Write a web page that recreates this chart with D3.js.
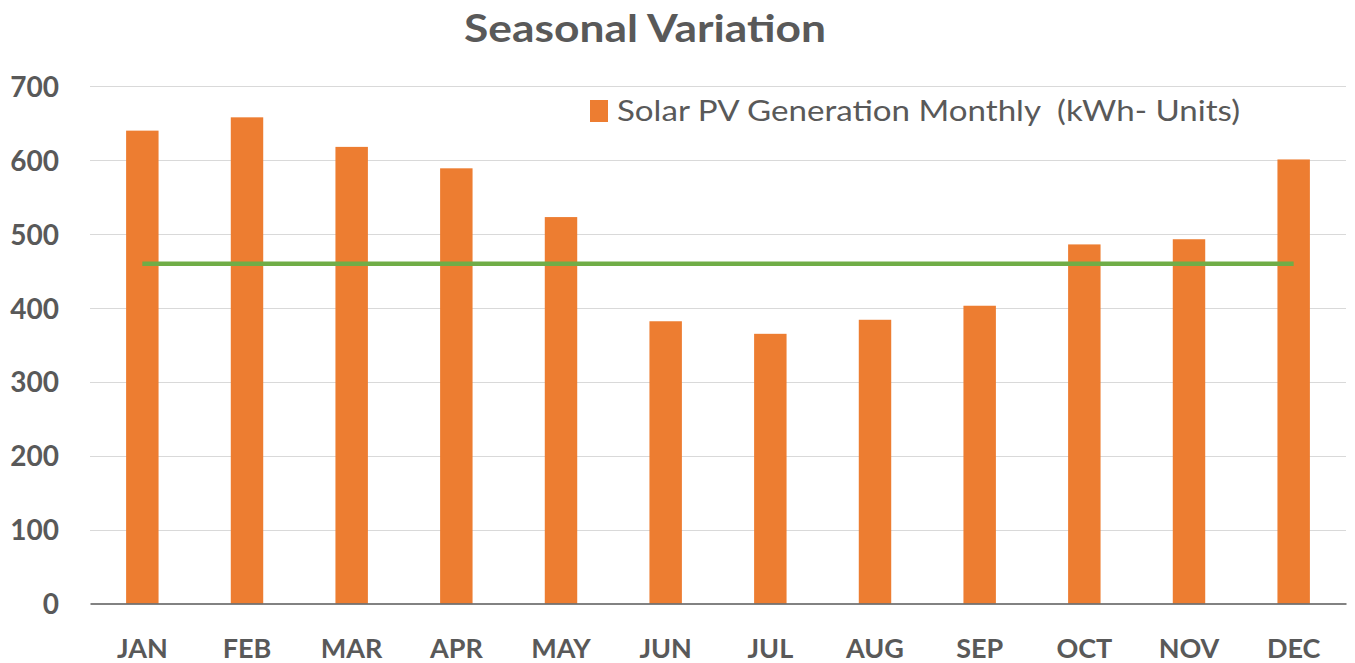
<!DOCTYPE html>
<html>
<head>
<meta charset="utf-8">
<script src="https://cdn.jsdelivr.net/npm/d3@7"></script>
<style>
  body { margin: 0; background: #fff; }
  text { font-family: Lato, "Open Sans", sans-serif; fill: #595959; }
</style>
</head>
<body>
<svg id="chart-svg"></svg>
<script>
const months = ['JAN', 'FEB', 'MAR', 'APR', 'MAY', 'JUN', 'JUL', 'AUG', 'SEP', 'OCT', 'NOV', 'DEC']
const generation = [640, 658, 618, 589, 523, 382, 365, 384, 403, 486, 493, 601]
const averageLine = 460
const yTicks = [0, 100, 200, 300, 400, 500, 600, 700]
const seriesName = 'Solar PV Generation Monthly  (kWh- Units)'

const width = 1355
const height = 663
const margin = { top: 86.3, bottom: 59.5, left: 90, right: 9 }

const svg = d3.select('#chart-svg')
    .attr('width', width)
    .attr('height', height)

const x = d3.scaleBand()
    .domain(months)
    .range([margin.left, width - margin.right])
    .paddingInner(0.69)
    .paddingOuter(0.345)

const y = d3.scaleLinear()
    .domain([0, 700])
    .range([height - margin.bottom, margin.top])

// gridlines
svg.append('g')
    .selectAll('line')
    .data(yTicks.slice(1))
    .join('line')
    .attr('x1', margin.left)
    .attr('x2', width - margin.right)
    .attr('y1', d => Math.round(y(d)) + 0.5)
    .attr('y2', d => Math.round(y(d)) + 0.5)
    .attr('stroke', '#d9d9d9')
    .attr('stroke-width', 1.2)

// y axis labels
const yAxis = svg.append('g')
    .attr('transform', `translate(${margin.left - 31},0)`)
    .call(d3.axisLeft(y).tickValues(yTicks).tickSize(0).tickPadding(0))
yAxis.select('.domain').remove()
yAxis.selectAll('text')
    .style('font-size', '28px')
    .style('font-weight', 700)
    .attr('fill', '#595959')
    .attr('dy', '0.36em')

// bars
svg.append('g')
    .selectAll('rect')
    .data(generation)
    .join('rect')
    .attr('x', (d, i) => x(months[i]))
    .attr('width', x.bandwidth())
    .attr('y', d => y(d))
    .attr('height', d => y(0) - y(d))
    .attr('fill', '#ed7d31')

// baseline / x axis
const xAxis = svg.append('g')
    .attr('transform', `translate(0,${y(0)})`)
    .call(d3.axisBottom(x).tickSize(0).tickPadding(35))
xAxis.select('.domain')
    .attr('stroke', '#595959')
    .attr('stroke-width', 1.5)
xAxis.selectAll('text')
    .style('font-size', '27px')
    .style('font-weight', 700)
    .attr('fill', '#595959')

// average line
svg.append('line')
    .attr('x1', x(months[0]) + x.bandwidth() / 2)
    .attr('x2', x(months[months.length - 1]) + x.bandwidth() / 2)
    .attr('y1', y(averageLine))
    .attr('y2', y(averageLine))
    .attr('stroke', '#70ad47')
    .attr('stroke-width', 4.5)

// title (reference text is a bit wider than Lato, stretch to fit)
svg.append('text')
    .attr('x', 645)
    .attr('y', 42)
    .attr('text-anchor', 'middle')
    .attr('textLength', 362)
    .attr('lengthAdjust', 'spacingAndGlyphs')
    .style('font-size', '38px')
    .style('font-weight', 700)
    .text('Seasonal Variation')

// legend
const legend = svg.append('g').attr('transform', 'translate(590,100)')
legend.append('rect')
    .attr('width', 18)
    .attr('height', 22)
    .attr('fill', '#ed7d31')
legend.append('text')
    .attr('x', 27)
    .attr('y', 21)
    .attr('textLength', 623)
    .attr('lengthAdjust', 'spacingAndGlyphs')
    .style('font-size', '28px')
    .style('white-space', 'pre')
    .text(seriesName)
</script>
</body>
</html>
